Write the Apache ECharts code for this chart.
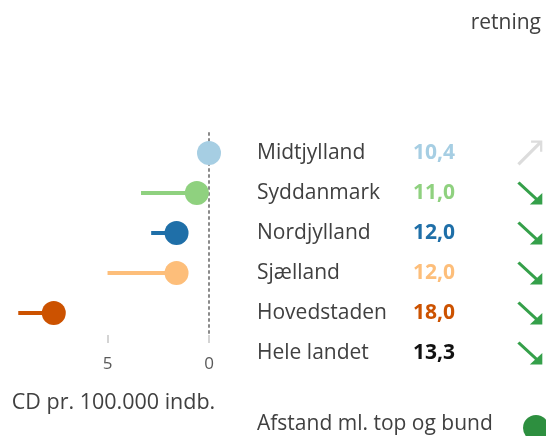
<!DOCTYPE html>
<html>
<head>
<meta charset="utf-8">
<script src="https://cdn.jsdelivr.net/npm/echarts@6/dist/echarts.min.js"></script>
<style>
html, body { margin: 0; padding: 0; background: #fff; }
#main { width: 546px; height: 436px; }
</style>
</head>
<body>
<div id="main"></div>
<script>
// Regioner i lollipop-delen
var regioner = ['Midtjylland', 'Syddanmark', 'Nordjylland', 'Sjælland', 'Hovedstaden'];
// prik = afstand til bedste region, streg starter ved afstandFoer
var afstand = [0, 0.6, 1.6, 1.6, 7.65];
var afstandFoer = [0, 3.35, 2.85, 5.0, 9.4];
var farver = ['#a6cee3', '#8fd17f', '#1f6fa8', '#fdbe7a', '#cc5200'];

// Tabellen til hoejre
var raekker = ['Midtjylland', 'Syddanmark', 'Nordjylland', 'Sjælland', 'Hovedstaden', 'Hele landet'];
var vaerdier = ['10,4', '11,0', '12,0', '12,0', '18,0', '13,3'];
var vaerdiFarver = ['#a6cee3', '#8fd17f', '#1f6fa8', '#fdbe7a', '#cc5200', '#111111'];
var retning = ['op', 'ned', 'ned', 'ned', 'ned', 'ned'];

var xTicks = [0, 5];

var font = 'Open Sans';
var pilKolonne = 0.944;
var pilNed = 'path://M0,9 L9,0 L79.5,70.5 L100,50 L100,100 L50,100 L70.5,79.5 Z';
var pilOp = 'path://M0,91 L82,9 L55,9 L55,0 L100,0 L100,45 L91,45 L91,18 L9,100 Z';

var myChart = echarts.init(document.getElementById('main'));

var rich = { n: { width: 156, fontSize: 21, color: '#404040', fontFamily: font } };
for (var i = 0; i < raekker.length; i++) {
	rich['v' + i] = { fontSize: 21, fontWeight: 'bold', color: vaerdiFarver[i], fontFamily: font };
}

var option = {
	animation: false,
	title: [{
		text: 'retning',
		right: 0,
		top: 8,
		textStyle: { fontSize: 21, fontWeight: 'normal', color: '#404040', fontFamily: font }
	}, {
		text: 'Afstand ml. top og bund',
		left: 252,
		top: 409,
		textStyle: { fontSize: 21, fontWeight: 'normal', color: '#404040', fontFamily: font }
	}],
	graphic: [{
		type: 'circle',
		shape: { cx: 536, cy: 428, r: 13 },
		style: { fill: '#2d8f3f' }
	}],
	grid: [
		{ left: 0, right: 337, top: 133, height: 200 },
		{ left: 257, right: 0, top: 133, height: 240 }
	],
	xAxis: [{
		gridIndex: 0,
		type: 'value',
		inverse: true,
		min: 0,
		max: 10.3,
		offset: 2,
		axisLine: { show: false },
		splitLine: { show: false },
		axisTick: { show: true, length: 8, customValues: xTicks, lineStyle: { color: '#d4d4d4', width: 2 } },
		axisLabel: { customValues: xTicks, margin: 21, fontSize: 17, color: '#595959', fontFamily: font },
		name: 'CD pr. 100.000 indb.',
		nameLocation: 'middle',
		nameGap: 57,
		nameTextStyle: { fontSize: 21.5, color: '#404040', fontFamily: font, padding: [0, 0, 0, 18] }
	}, {
		gridIndex: 1,
		type: 'value',
		min: 0,
		max: 1,
		show: false
	}],
	yAxis: [{
		gridIndex: 0,
		type: 'category',
		data: regioner,
		inverse: true,
		position: 'right',
		axisLine: { show: true, lineStyle: { color: '#8a8a8a', width: 2, type: [2, 4] } },
		axisTick: { show: false },
		axisLabel: { show: false },
		splitLine: { show: false }
	}, {
		gridIndex: 1,
		type: 'category',
		data: raekker,
		inverse: true,
		axisLine: { show: false },
		axisTick: { show: false },
		splitLine: { show: false },
		axisLabel: {
			inside: true,
			margin: 0,
			formatter: function(value, idx) {
				return '{n|' + value + '}{v' + idx + '|' + vaerdier[idx] + '}';
			},
			rich: rich
		}
	}],
	series: [{
		// usynlig del op til prikken
		type: 'bar',
		stack: 'streg',
		barWidth: 4,
		silent: true,
		itemStyle: { color: 'transparent' },
		data: afstand
	}, {
		type: 'bar',
		stack: 'streg',
		barWidth: 4,
		data: afstandFoer.map(function(v, i) {
			return { value: v - afstand[i], itemStyle: { color: farver[i] } };
		})
	}, {
		type: 'scatter',
		symbolSize: 24,
		z: 5,
		data: afstand.map(function(v, i) {
			return { value: [v, regioner[i]], itemStyle: { color: farver[i], opacity: 1 } };
		})
	}, {
		type: 'scatter',
		xAxisIndex: 1,
		yAxisIndex: 1,
		symbolKeepAspect: false,
		data: retning.map(function(r, i) {
			return {
				value: [pilKolonne, raekker[i]],
				symbol: r == 'op' ? pilOp : pilNed,
				symbolSize: r == 'op' ? [25, 25] : [25, 23],
				itemStyle: { color: r == 'op' ? '#dcdcdc' : '#35a04a', opacity: 1 }
			};
		})
	}]
};

myChart.setOption(option);
</script>
</body>
</html>
